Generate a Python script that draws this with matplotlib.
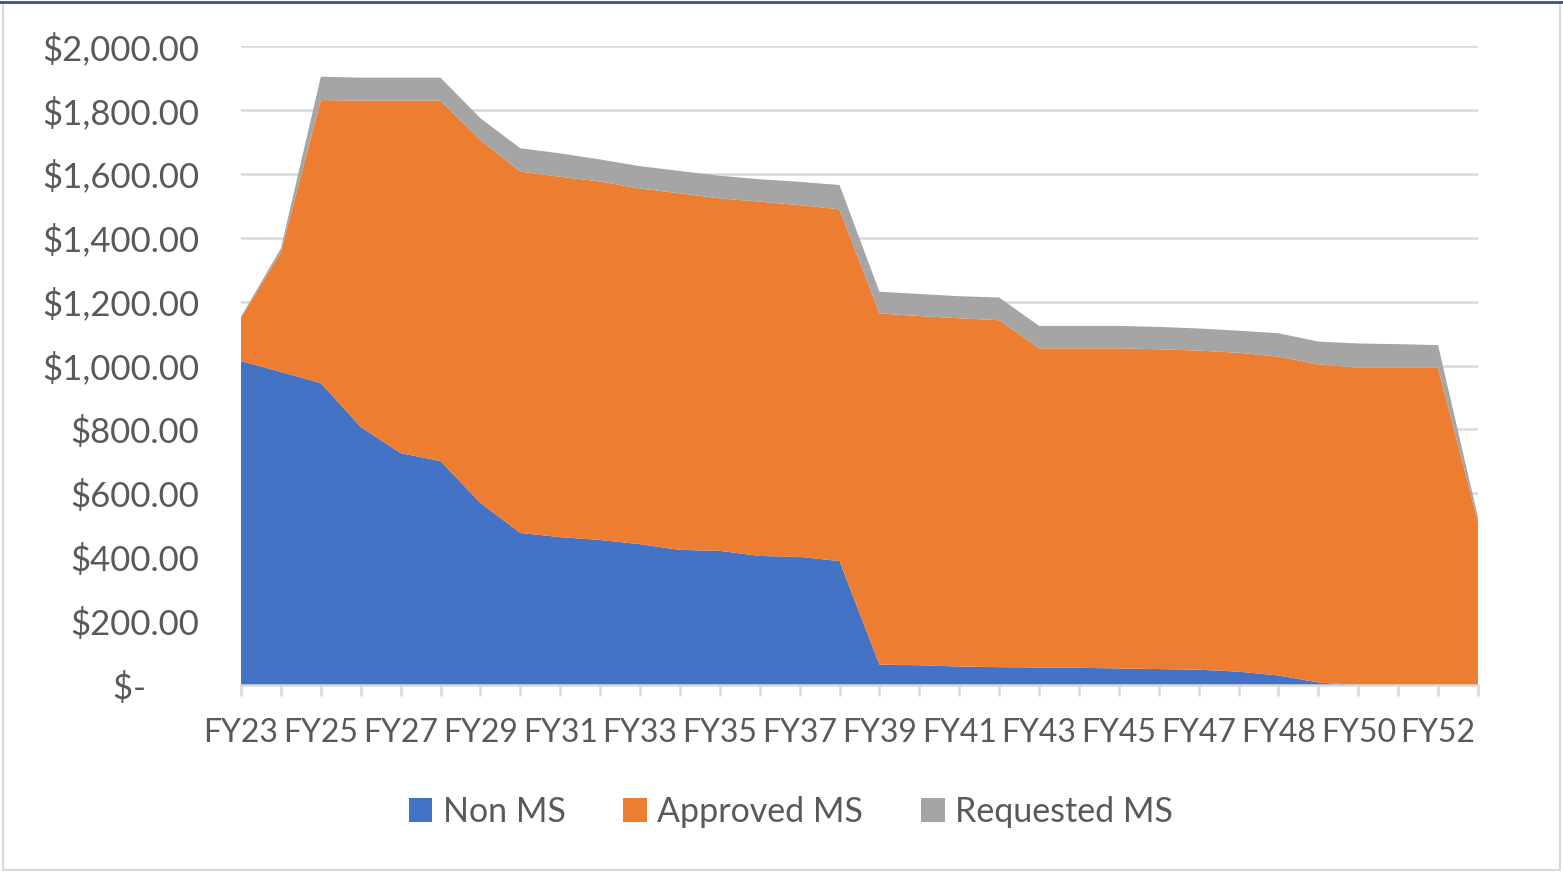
import matplotlib
matplotlib.use("Agg")
import matplotlib.pyplot as plt
from matplotlib.ticker import FuncFormatter
from matplotlib.patches import Rectangle

plt.rcParams['font.family'] = ['Lato', 'DejaVu Sans']

years = ["FY23", "FY24", "FY25", "FY26", "FY27", "FY28", "FY29", "FY30",
         "FY31", "FY32", "FY33", "FY34", "FY35", "FY36", "FY37", "FY38",
         "FY39", "FY40", "FY41", "FY42", "FY43", "FY44", "FY45", "FY46",
         "FY47", "FY48", "FY48", "FY49", "FY50", "FY51", "FY52", "FY53"]

non_ms = [1014, 980, 945, 808, 726, 701, 570, 476, 463, 454, 441, 423,
          420, 404, 401, 388, 64, 62, 58, 56, 55, 54, 52, 50,
          48, 42, 30, 8, 0, 0, 0, 0]
approved_ms = [136, 375, 886, 1021, 1103, 1128, 1136, 1131, 1128, 1122, 1113, 1116,
               1103, 1109, 1101, 1101, 1099, 1093, 1090, 1086, 999, 1000, 1002, 1001,
               999, 998, 998, 996, 993, 993, 993, 510]
requested_ms = [3, 12, 73, 72, 72, 72, 68, 73, 73, 69, 70, 70,
                71, 70, 73, 76, 68, 69, 69, 71, 70, 70, 70, 70,
                69, 69, 73, 71, 76, 74, 71, 15]

series_names = ["Non MS", "Approved MS", "Requested MS"]
colors = ["#4472C4", "#ED7D31", "#A5A5A5"]

fig = plt.figure(figsize=(15.63, 8.72), dpi=100)
ax = fig.add_axes([0.1542, 0.2144, 0.7914, 0.7328])

x = list(range(len(years)))
ax.stackplot(x, non_ms, approved_ms, requested_ms, colors=colors,
             labels=series_names, linewidth=0, zorder=3)

ax.set_xlim(0, len(years) - 1)
ax.set_ylim(0, 2000)
ax.set_yticks(range(0, 2001, 200))


def money(v, pos):
    if v == 0:
        return "$-      "
    return "${:,.2f}".format(v)


ax.yaxis.set_major_formatter(FuncFormatter(money))
ax.set_xticks(x)
ax.set_xticklabels([y if i % 2 == 0 else "" for i, y in enumerate(years)])

ax.grid(axis="y", color="#D9D9D9", linewidth=1.8, zorder=0)
ax.set_axisbelow(True)
for s in ["top", "right", "left"]:
    ax.spines[s].set_visible(False)
ax.spines["bottom"].set_color("#D9D9D9")
ax.spines["bottom"].set_linewidth(1.8)
ax.spines["bottom"].set_zorder(4)

ax.tick_params(axis="y", length=0, pad=30, labelsize=25, labelcolor="#595959")
ax.tick_params(axis="x", length=8, width=1.8, color="#D9D9D9", pad=16,
               labelsize=23, labelcolor="#595959")

leg = fig.legend(loc="center", bbox_to_anchor=(0.506, 0.069), ncol=3,
                 frameon=False, fontsize=24.5, handlelength=0.7, handleheight=0.7,
                 handletextpad=0.3, columnspacing=1.7, labelcolor="#595959")

fig.patches.append(Rectangle((0.002, 0.002), 0.996, 0.994, transform=fig.transFigure,
                             fill=False, edgecolor="#D9D9D9", linewidth=1.5))
fig.lines.append(plt.Line2D([0, 1], [0.998, 0.998], transform=fig.transFigure,
                            color="#2F5597", linewidth=2))

fig.savefig("out.png", dpi=100)
